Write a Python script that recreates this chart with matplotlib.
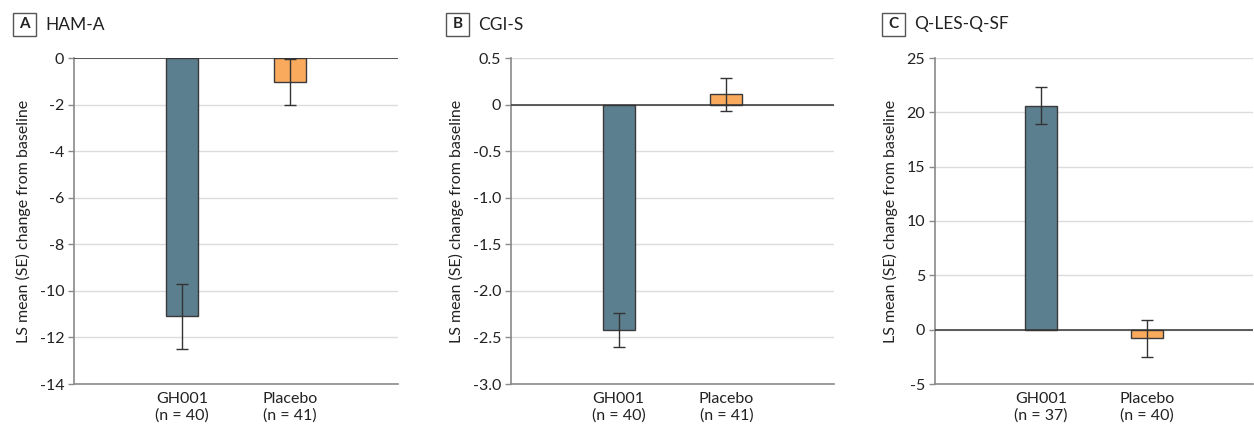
import numpy as np
import matplotlib
matplotlib.use('Agg')
import matplotlib.pyplot as plt
from matplotlib.patches import Rectangle

plt.rcParams['font.family'] = ['Lato', 'DejaVu Sans']

groups = ['GH001', 'Placebo']
panel_letters = ['A', 'B', 'C']
panel_titles = ['HAM-A', 'CGI-S', 'Q-LES-Q-SF']
n_counts = [[40, 41], [40, 41], [37, 40]]

ham_mean = [-11.1, -1.02]
ham_se = [1.4, 0.98]
cgi_mean = [-2.42, 0.11]
cgi_se = [0.18, 0.175]
qles_mean = [20.6, -0.8]
qles_se = [1.7, 1.7]

means = [ham_mean, cgi_mean, qles_mean]
ses = [ham_se, cgi_se, qles_se]
ylims = [(-14, 0), (-3.0, 0.5), (-5, 25)]
yticks = [np.arange(-14, 1, 2), np.arange(-3.0, 0.51, 0.5), np.arange(-5, 26, 5)]
ytick_fmt = ['%d', '%.1f', '%d']

bar_colors = ['#5b7f8e', '#f9aa5c']
edge = '#3a3a3a'
gridc = '#dcdcdc'
spinec = '#8a8a8a'
textc = '#222222'

W, H = 1254, 430
fig = plt.figure(figsize=(W / 100, H / 100), dpi=100)
lefts = [74 / W, 511 / W, 935 / W]
widths = [324 / W, 323 / W, 318 / W]
bottom = 46 / H
height = 326 / H
box_left = [13, 446, 882]

for i in range(3):
    ax = fig.add_axes([lefts[i], bottom, widths[i], height])
    x = np.arange(len(groups))
    for g in range(len(groups)):
        ax.bar(x[g], means[i][g], width=0.3, color=bar_colors[g],
               edgecolor=edge, linewidth=1, zorder=3)
        ax.errorbar(x[g], means[i][g], yerr=ses[i][g], fmt='none',
                    ecolor='#333333', elinewidth=1, capsize=4.5,
                    capthick=1, zorder=4)
    ax.axhline(0, color='#333333', lw=1.1, zorder=3.5)
    ax.set_xlim(-1, 2)
    ax.set_ylim(*ylims[i])
    ax.set_yticks(yticks[i])
    labs = []
    for v in yticks[i]:
        s = ytick_fmt[i] % v
        if abs(v) < 1e-9:
            s = '0'
        labs.append(s)
    ax.set_yticklabels(labs)
    ax.yaxis.grid(True, color=gridc, lw=1, zorder=0)
    ax.set_axisbelow(True)
    ax.set_xticks(x)
    ax.set_xticklabels(['%s\n(n = %d)' % (groups[g], n_counts[i][g])
                        for g in range(len(groups))],
                       fontsize=11.5, color=textc, linespacing=1.15)
    ax.tick_params(axis='x', length=0, pad=6)
    ax.tick_params(axis='y', length=4, width=1, color=spinec,
                   labelsize=11.5, labelcolor=textc, pad=3)
    for s in ['top', 'right']:
        ax.spines[s].set_visible(False)
    for s in ['left', 'bottom']:
        ax.spines[s].set_color(spinec)
        ax.spines[s].set_linewidth(1.2)
    ax.set_ylabel('LS mean (SE) change from baseline', fontsize=11.5,
                  color=textc, labelpad=6)

    # panel label box and title
    bx = box_left[i]
    fig.patches.append(Rectangle((bx / W, 1 - 36 / H), 23 / W, 23 / H,
                                 transform=fig.transFigure, fc='white',
                                 ec='#555555', lw=1))
    fig.text((bx + 11.5) / W, 1 - 24.5 / H, panel_letters[i], fontsize=11,
             weight='bold', color=textc, ha='center', va='center')
    fig.text((bx + 32) / W, 1 - 24.5 / H, panel_titles[i], fontsize=12.5,
             color=textc, ha='left', va='center')

fig.savefig('out.png', dpi=100)
